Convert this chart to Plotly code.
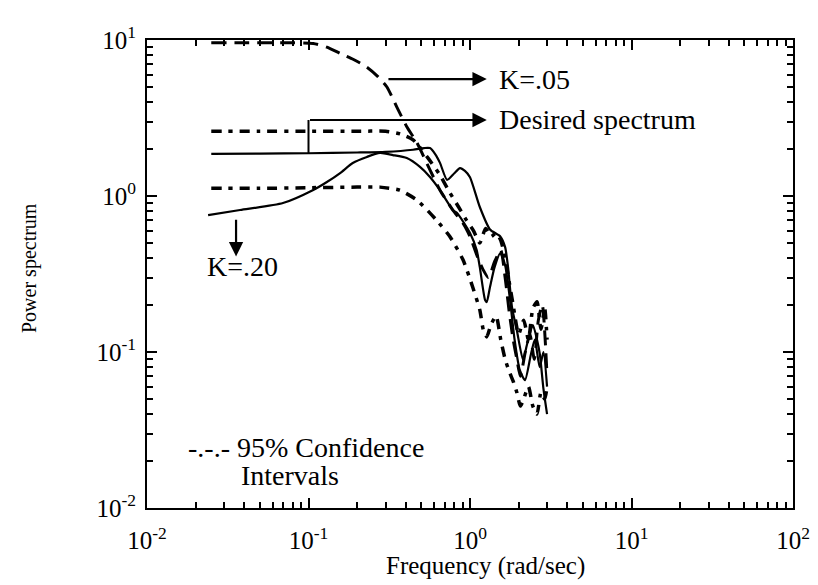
import plotly.graph_objects as go
import math

# ---- data ----
k05_f = [0.025, 0.04, 0.06, 0.08, 0.107, 0.13, 0.157, 0.19, 0.23, 0.27, 0.306, 0.353, 0.407, 0.47, 0.565,
         0.652, 0.785, 0.905, 1.0, 1.1, 1.2, 1.3, 1.42, 1.55, 1.65, 1.75, 1.85, 1.95, 2.05, 2.2, 2.35, 2.5,
         2.65, 2.8, 3.0]
k05_v = [9.6, 9.6, 9.6, 9.6, 9.5, 9.0, 8.2, 7.5, 6.7, 5.8, 5.0, 3.7, 2.77, 2.19, 1.47,
         1.09, 0.81, 0.67, 0.55, 0.42, 0.34, 0.30, 0.38, 0.45, 0.30, 0.18, 0.12, 0.09, 0.07, 0.10, 0.13, 0.09,
         0.16, 0.20, 0.07]

ciup_f = [0.025, 0.05, 0.1, 0.2, 0.3, 0.37, 0.444, 0.55, 0.652, 0.75, 0.85, 0.95, 1.05, 1.15, 1.25, 1.35,
          1.45, 1.55, 1.65, 1.75, 1.85, 2.0, 2.15, 2.3, 2.45, 2.6, 2.75, 2.9, 3.0]
ciup_v = [2.6, 2.6, 2.6, 2.6, 2.6, 2.5, 2.29, 1.75, 1.36, 1.05, 0.85, 0.70, 0.60, 0.50, 0.62, 0.55,
          0.58, 0.52, 0.40, 0.28, 0.20, 0.13, 0.16, 0.12, 0.19, 0.21, 0.14, 0.19, 0.12]

cilo_f = [0.025, 0.05, 0.1, 0.2, 0.277, 0.367, 0.47, 0.62, 0.75, 0.905, 1.04, 1.15, 1.21, 1.27, 1.35,
          1.45, 1.55, 1.65, 1.75, 1.85, 1.95, 2.05, 2.15, 2.3, 2.45, 2.6, 2.75, 2.9, 3.0]
cilo_v = [1.12, 1.12, 1.13, 1.14, 1.14, 1.09, 0.94, 0.70, 0.55, 0.39, 0.26, 0.186, 0.138, 0.125, 0.15,
          0.17, 0.12, 0.09, 0.075, 0.065, 0.055, 0.045, 0.05, 0.06, 0.045, 0.04, 0.055, 0.05, 0.06]

des_f = [0.025, 0.05, 0.1, 0.2, 0.3, 0.444, 0.52, 0.565, 0.61, 0.652, 0.721, 0.8, 0.867, 0.93, 1.0, 1.15,
         1.33, 1.54, 1.65, 1.72, 1.82, 1.95, 2.13, 2.25, 2.45, 2.6, 2.71, 2.85, 3.0]
des_v = [1.86, 1.87, 1.88, 1.90, 1.92, 1.98, 2.03, 2.03, 1.85, 1.63, 1.27, 1.40, 1.51, 1.45, 1.32, 0.85,
         0.61, 0.55, 0.47, 0.35, 0.194, 0.138, 0.089, 0.111, 0.149, 0.12, 0.096, 0.058, 0.040]

k20_f = [0.0239, 0.0377, 0.0695, 0.107, 0.13, 0.157, 0.188, 0.23, 0.277, 0.333, 0.406, 0.49, 0.565, 0.652,
         0.785, 0.832, 1.0, 1.10, 1.15, 1.24, 1.27, 1.33, 1.42, 1.54, 1.65, 1.77, 1.89, 2.03, 2.19, 2.38,
         2.52, 2.7, 2.85, 3.0]
k20_v = [0.755, 0.813, 0.901, 1.093, 1.229, 1.403, 1.628, 1.78, 1.888, 1.83, 1.75, 1.536, 1.325, 1.09,
         0.81, 0.778, 0.58, 0.45, 0.35, 0.215, 0.209, 0.261, 0.35, 0.43, 0.36, 0.215, 0.119, 0.077, 0.066, 0.096,
         0.12, 0.08, 0.10, 0.06]

# leader for "Desired spectrum" label
lead_f = [0.1, 0.1]
lead_v = [1.88, 3.07]

x_ticks = [0.01, 0.1, 1, 10, 100]
x_tick_text = ["10<sup>-2</sup>", "10<sup>-1</sup>", "10<sup>0</sup>", "10<sup>1</sup>", "10<sup>2</sup>"]
y_ticks = [0.01, 0.1, 1, 10]
y_tick_text = ["10<sup>-2</sup>", "10<sup>-1</sup>", "10<sup>0</sup>", "10<sup>1</sup>"]

FONT = "Liberation Serif, Times New Roman, serif"
BLACK = "black"

# the page body adds an 8px margin; figure coords = page coords - 8
OFF = 8
W, H = 818 - OFF, 585 - OFF
PL, PR, PT, PB = 147 - OFF, 793 - OFF, 40 - OFF, 508 - OFF


def px(x):  # page pixel -> paper fraction
    return (x - OFF - PL) / (PR - PL)


def py(y):
    return (PB - (y - OFF)) / (PB - PT)


fig = go.Figure()
dashdot = "10px,7px,4px,7px"
fig.add_trace(go.Scatter(x=k05_f, y=k05_v, mode="lines",
                         line=dict(color=BLACK, width=3, dash="15px,8px", shape="spline", smoothing=0.6)))
fig.add_trace(go.Scatter(x=ciup_f, y=ciup_v, mode="lines",
                         line=dict(color=BLACK, width=3.5, dash=dashdot, shape="spline", smoothing=0.6)))
fig.add_trace(go.Scatter(x=cilo_f, y=cilo_v, mode="lines",
                         line=dict(color=BLACK, width=3.5, dash=dashdot, shape="spline", smoothing=0.6)))
fig.add_trace(go.Scatter(x=des_f, y=des_v, mode="lines",
                         line=dict(color=BLACK, width=2.2, shape="spline", smoothing=0.6)))
fig.add_trace(go.Scatter(x=k20_f, y=k20_v, mode="lines",
                         line=dict(color=BLACK, width=2.2, shape="spline", smoothing=0.6)))
fig.add_trace(go.Scatter(x=lead_f, y=lead_v, mode="lines",
                         line=dict(color=BLACK, width=2)))

L = math.log10
TF = dict(size=28, family=FONT, color=BLACK)
arrow = dict(showarrow=True, arrowhead=2, arrowsize=1.3, arrowwidth=2.2, arrowcolor=BLACK, text="",
             xref="x", yref="y", axref="x", ayref="y")
fig.add_annotation(x=L(1.27), y=L(5.62), ax=L(0.306), ay=L(5.62), **arrow)
fig.add_annotation(x=L(1.27), y=L(3.07), ax=L(0.1), ay=L(3.07), **arrow)
fig.add_annotation(x=L(0.0356), y=L(0.41), ax=L(0.0356), ay=L(0.72), **arrow)

fig.add_annotation(x=px(497), y=py(79), xref="paper", yref="paper", text="K=.05",
                   showarrow=False, xanchor="left", yanchor="middle", font=TF)
fig.add_annotation(x=px(497), y=py(120), xref="paper", yref="paper", text="Desired spectrum",
                   showarrow=False, xanchor="left", yanchor="middle", font=TF)
fig.add_annotation(x=px(205), y=py(266), xref="paper", yref="paper", text="K=.20",
                   showarrow=False, xanchor="left", yanchor="middle", font=TF)
fig.add_annotation(x=px(186), y=py(447), xref="paper", yref="paper", text="-.-.- 95% Confidence",
                   showarrow=False, xanchor="left", yanchor="middle", font=dict(size=28, family=FONT, color=BLACK))
fig.add_annotation(x=px(239), y=py(475), xref="paper", yref="paper", text="Intervals",
                   showarrow=False, xanchor="left", yanchor="middle", font=dict(size=28, family=FONT, color=BLACK))
# axis titles
fig.add_annotation(x=px(486), y=py(566), xref="paper", yref="paper", text="Frequency (rad/sec)",
                   showarrow=False, xanchor="center", yanchor="middle", font=dict(size=25, family=FONT, color=BLACK))
fig.add_annotation(x=px(29), y=py(268), xref="paper", yref="paper", text="Power spectrum", textangle=-90,
                   showarrow=False, xanchor="center", yanchor="middle", font=dict(size=20, family=FONT, color=BLACK))

minor_x = [k * 10.0 ** e for e in range(-2, 2) for k in range(2, 10)]
minor_y = [k * 10.0 ** e for e in range(-2, 1) for k in range(2, 10)]

axis_common = dict(type="log", showgrid=False, zeroline=False, showline=True, linecolor=BLACK,
                   linewidth=2, mirror="allticks", ticks="inside", ticklen=10, tickwidth=1.8,
                   tickcolor=BLACK, tickfont=dict(size=25, family=FONT, color=BLACK), automargin=False)

fig.update_xaxes(range=[-2, 2], tickmode="array", tickvals=x_ticks, ticktext=x_tick_text,
                 ticklabelstandoff=9,
                 minor=dict(tickmode="array", tickvals=minor_x, ticks="inside", ticklen=6, tickwidth=1.5,
                            tickcolor=BLACK, showgrid=False),
                 **axis_common)
fig.update_yaxes(range=[-2, 1], tickmode="array", tickvals=y_ticks, ticktext=y_tick_text,
                 ticklabelstandoff=4,
                 minor=dict(tickmode="array", tickvals=minor_y, ticks="inside", ticklen=6, tickwidth=1.5,
                            tickcolor=BLACK, showgrid=False),
                 **axis_common)

fig.update_layout(width=W, height=H, showlegend=False,
                  margin=dict(l=PL, r=W - PR, t=PT, b=H - PB, autoexpand=False),
                  plot_bgcolor="white", paper_bgcolor="white",
                  font=dict(family=FONT, color=BLACK))

fig.write_html("out.html")
